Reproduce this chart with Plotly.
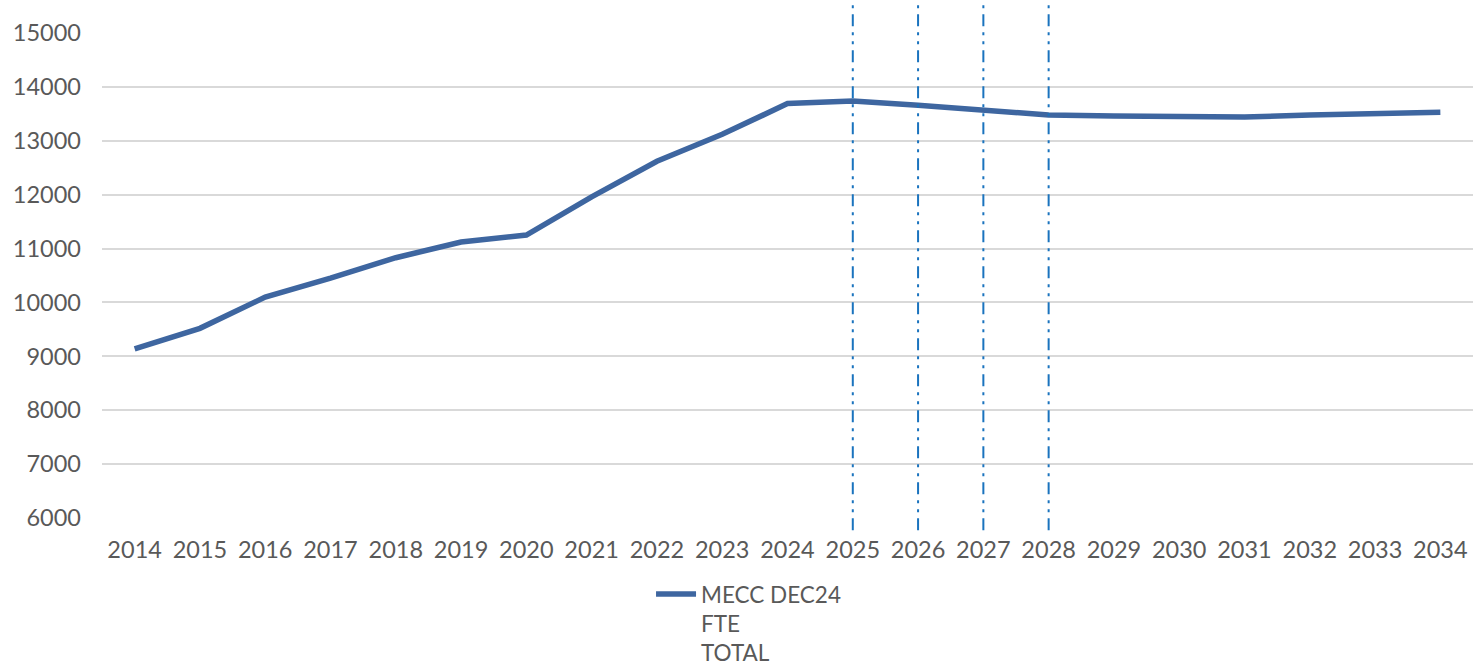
import plotly.graph_objects as go

years = [str(y) for y in range(2014, 2035)]
fte_total = [9140, 9520, 10100, 10450, 10830, 11120, 11250, 11960, 12620, 13120,
             13690, 13740, 13660, 13580, 13480, 13460, 13440, 13440, 13480, 13500, 13530]
marker_years = ["2025", "2026", "2027", "2028"]
y_ticks = list(range(6000, 15001, 1000))

font_family = "Lato, 'Open Sans', sans-serif"
text_color = "#595959"

fig = go.Figure()
fig.add_trace(go.Scatter(
    x=years, y=fte_total, mode="lines",
    name="MECC DEC24<br>FTE<br>TOTAL",
    line=dict(color="#3E66A0", width=5.5),
))

# dash-dot-dot reference lines through the forecast years
for yr in marker_years:
    xi = years.index(yr)
    fig.add_shape(
        type="line", xref="x", yref="paper",
        x0=xi, x1=xi, y0=-0.025, y1=1.06,
        line=dict(color="#1A73BE", width=2, dash="12px,6px,3px,6px,3px,6px"),
    )

fig.update_layout(
    width=1483, height=670,
    margin=dict(l=102, r=10, t=33, b=152),
    paper_bgcolor="white", plot_bgcolor="white",
    font=dict(family=font_family, size=23.5, color=text_color),
    showlegend=True,
    legend=dict(
        orientation="h", xref="container", yref="container",
        x=0.439, xanchor="left", y=0.145, yanchor="top",
        valign="top", tracegroupgap=0,
        font=dict(size=22.5, color=text_color), itemwidth=40,
        bgcolor="rgba(0,0,0,0)",
    ),
    xaxis=dict(
        type="category", range=[-0.5, 20.5],
        showgrid=False, showline=False, ticks="",
        ticklabelstandoff=15,
        tickfont=dict(size=23.5, color=text_color),
    ),
    yaxis=dict(
        range=[6000, 15000], tickvals=y_ticks, tickformat="d",
        showgrid=True, gridcolor="#D9D9D9", gridwidth=1.5,
        zeroline=False, showline=False, ticks="",
        ticklabelstandoff=20,
        tickfont=dict(size=23.5, color=text_color),
    ),
)

fig.write_html("out.html")
